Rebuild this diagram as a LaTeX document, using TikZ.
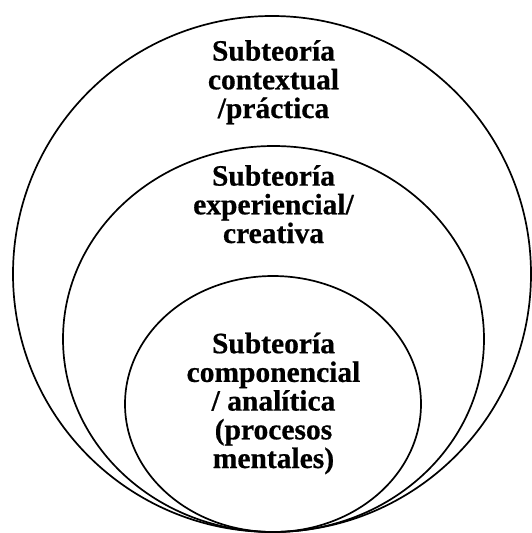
\documentclass[tikz,border=0pt]{standalone}
\usepackage{fontspec}
\setmainfont{Liberation Serif}[BoldFeatures={FakeBold=0.6}]
\begin{document}
\begin{tikzpicture}[x=1pt,y=-1pt,
  ring/.style={draw=black, line width=1.7pt},
  lbl/.style={align=center, anchor=base, inner sep=0pt, font=\fontsize{29.5}{28.7}\selectfont\bfseries}]
\useasboundingbox (0,0) rectangle (531,533);
\draw[ring] (272,274) ellipse [x radius=259, y radius=258];
\draw[ring] (273.5,339) ellipse [x radius=210.5, y radius=193];
\draw[ring] (273,404) ellipse [x radius=148, y radius=128];
\node[lbl] (outer) at (273.5,118) {Subteoría\\contextual\\/práctica};
\node[lbl] (middle) at (273.5,243) {Subteoría\\experiencial/\\creativa};
\node[lbl] (inner) at (273.5,468) {Subteoría\\componencial\\/ analítica\\(procesos\\mentales)};
\end{tikzpicture}
\end{document}
